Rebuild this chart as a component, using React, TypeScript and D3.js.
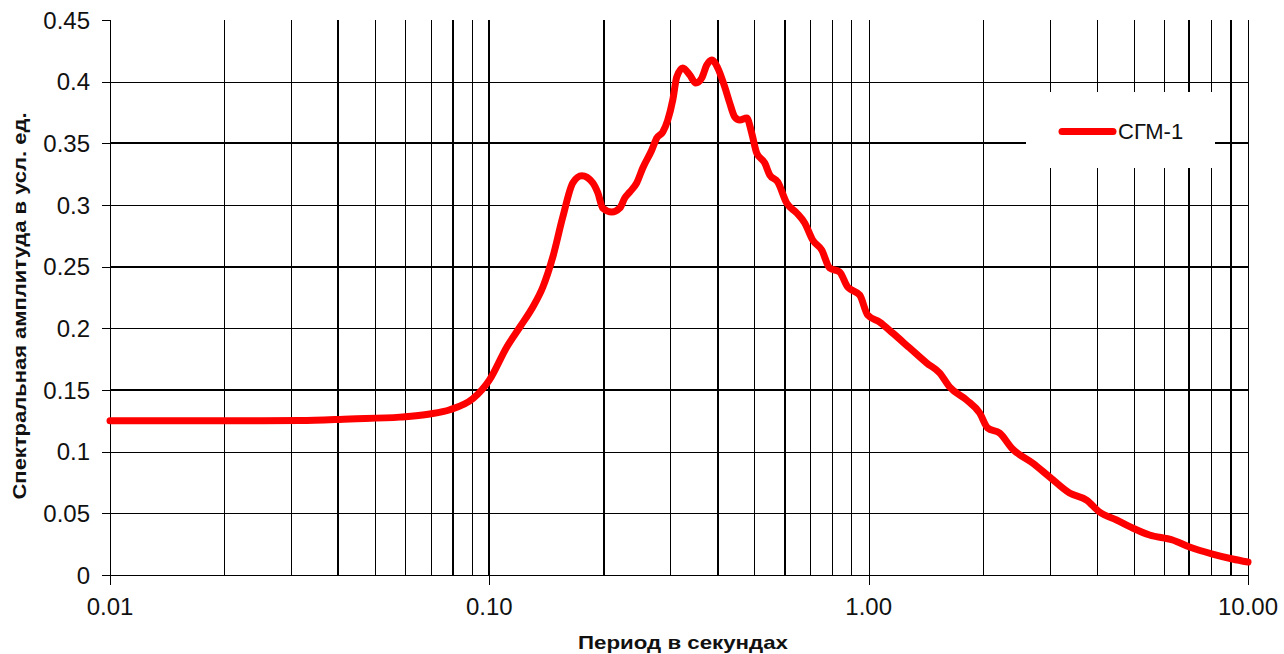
import React from 'react';
import * as d3 from 'd3';

// Response spectrum, record СГМ-1: period (s) vs spectral amplitude (arb. units)
const periods = [
  0.01, 0.0173, 0.0317, 0.0429, 0.0581, 0.0697, 0.0787, 0.0905, 0.0955, 0.1,
  0.1112, 0.1204, 0.1302, 0.1384, 0.147, 0.1562, 0.166, 0.1753, 0.1874, 0.1932,
  0.1991, 0.2103, 0.2208, 0.2275, 0.2345, 0.2447, 0.2538, 0.2681, 0.2763, 0.2866,
  0.2954, 0.3045, 0.312, 0.3236, 0.3376, 0.3501, 0.3631, 0.3743, 0.3858, 0.4001,
  0.4174, 0.4302, 0.4436, 0.4573, 0.4771, 0.4916, 0.5068, 0.5321, 0.5485, 0.5757,
  0.608, 0.6461, 0.6783, 0.7119, 0.752, 0.7892, 0.8385, 0.8803, 0.902, 0.9469,
  0.994, 1.069, 1.157, 1.282, 1.422, 1.539, 1.635, 1.812, 1.961, 2.059,
  2.214, 2.395, 2.704, 2.999, 3.385, 3.753, 4.061, 4.503, 4.963, 5.5,
  6.325, 7.013, 8.063, 9.105, 10.0,
];
const amplitudes = [
  0.125, 0.125, 0.1252, 0.1265, 0.128, 0.1305, 0.134, 0.143, 0.15, 0.158,
  0.1849, 0.2011, 0.2173, 0.2335, 0.2578, 0.2903, 0.318, 0.3237, 0.318, 0.3099,
  0.2975, 0.2943, 0.2975, 0.3057, 0.3105, 0.318, 0.33, 0.3446, 0.3543, 0.3592,
  0.3689, 0.3851, 0.4038, 0.4111, 0.4054, 0.3989, 0.403, 0.4135, 0.4176, 0.4111,
  0.3957, 0.3827, 0.3714, 0.3689, 0.3706, 0.3584, 0.3422, 0.3341, 0.3244, 0.3187,
  0.3016, 0.2935, 0.2854, 0.2716, 0.2635, 0.2489, 0.2457, 0.2335, 0.2311, 0.227,
  0.2108, 0.2051, 0.1962, 0.1841, 0.1719, 0.1638, 0.1524, 0.1419, 0.1314, 0.1192,
  0.1151, 0.1022, 0.0908, 0.0795, 0.0665, 0.0608, 0.0511, 0.0446, 0.0381, 0.0324,
  0.0284, 0.0227, 0.017, 0.013, 0.0105,
];

const yTicks = [0, 0.05, 0.1, 0.15, 0.2, 0.25, 0.3, 0.35, 0.4, 0.45];
const yTickLabels = ['0', '0.05', '0.1', '0.15', '0.2', '0.25', '0.3', '0.35', '0.4', '0.45'];
const xMajorTicks = [0.01, 0.1, 1, 10];
const xTickLabels = ['0.01', '0.10', '1.00', '10.00'];
const seriesName = 'СГМ-1';
const xTitle = 'Период в секундах';
const yTitle = 'Спектральная амплитуда в усл. ед.';

const W = 1284;
const H = 654;
const left = 110;
const right = 1248;
const top = 20;
const bottom = 575;
const font = '"Liberation Sans", Arial, sans-serif';

// grid lines drawn heavier
const heavyX = [0.04, 0.08, 0.1, 0.2, 0.4, 0.6, 7, 9];
const heavyY = [0.15, 0.25, 0.35];

export default function App() {
  const x = d3.scaleLog().domain([0.01, 10]).range([left, right]);
  const y = d3.scaleLinear().domain([0, 0.45]).range([bottom, top]);

  const gridX = x.ticks().filter((t) => t > 0.0100001);
  const gridY = yTicks.filter((t) => t > 0 && t < 0.45);

  const isHeavy = (arr: number[], v: number) => arr.some((a) => Math.abs(a - v) / a < 1e-6);

  const data = periods.map((p, i) => [p, amplitudes[i]] as [number, number]);
  const line = d3
    .line<[number, number]>()
    .x((d) => x(d[0]))
    .y((d) => y(d[1]))
    .curve(d3.curveMonotoneX);

  const crisp = (v: number, w: number) => (w % 2 === 1 ? Math.round(v) + 0.5 : Math.round(v));

  return (
    <svg
      width={W}
      height={H}
      style={{ position: 'absolute', left: 0, top: 0, background: '#fff' }}
    >
      <rect x={0} y={0} width={W} height={H} fill="#fff" />
      <g shapeRendering="crispEdges" stroke="#000">
        {gridX.map((t) => {
          const w = isHeavy(heavyX, t) ? 2 : 1;
          const px = crisp(x(t), w);
          return <line key={'gx' + t} x1={px} x2={px} y1={top} y2={bottom} strokeWidth={w} />;
        })}
        {gridY.map((t) => {
          const w = isHeavy(heavyY, t) ? 2 : 1;
          const py = crisp(y(t), w);
          return <line key={'gy' + t} x1={left} x2={right} y1={py} y2={py} strokeWidth={w} />;
        })}
        {/* axes */}
        <line x1={crisp(left, 1)} x2={crisp(left, 1)} y1={top} y2={bottom} strokeWidth={1} />
        <line x1={left - 8} x2={right} y1={crisp(bottom, 1)} y2={crisp(bottom, 1)} strokeWidth={1} />
        {yTicks.map((t) => (
          <line
            key={'yt' + t}
            x1={left - 8}
            x2={left}
            y1={crisp(y(t), 1)}
            y2={crisp(y(t), 1)}
            strokeWidth={1}
          />
        ))}
        {xMajorTicks.map((t) => (
          <line
            key={'xt' + t}
            x1={crisp(x(t), 1)}
            x2={crisp(x(t), 1)}
            y1={bottom}
            y2={bottom + 10}
            strokeWidth={1}
          />
        ))}
      </g>

      {yTicks.map((t, i) => (
        <text
          key={'yl' + t}
          x={90}
          y={y(t) + 8.5}
          textAnchor="end"
          fontFamily={font}
          fontSize={24}
          fill="#111"
        >
          {yTickLabels[i]}
        </text>
      ))}
      {xMajorTicks.map((t, i) => (
        <text
          key={'xl' + t}
          x={x(t)}
          y={615}
          textAnchor="middle"
          fontFamily={font}
          fontSize={24}
          fill="#111"
        >
          {xTickLabels[i]}
        </text>
      ))}

      <text
        x={683}
        y={649}
        textAnchor="middle"
        fontFamily={font}
        fontSize={19}
        fontWeight="bold"
        fill="#111"
        textLength={210}
        lengthAdjust="spacingAndGlyphs"
      >
        {xTitle}
      </text>
      <text
        transform="translate(26,306) rotate(-90)"
        textAnchor="middle"
        fontFamily={font}
        fontSize={18}
        fontWeight="bold"
        fill="#111"
        textLength={387}
        lengthAdjust="spacingAndGlyphs"
      >
        {yTitle}
      </text>

      <path
        d={line(data) ?? ''}
        fill="none"
        stroke="#ff0000"
        strokeWidth={7}
        strokeLinejoin="round"
        strokeLinecap="round"
      />

      {/* legend */}
      <rect x={1026} y={92} width={189} height={76} fill="#fff" />
      <line x1={1062} x2={1113} y1={131.5} y2={131.5} stroke="#ff0000" strokeWidth={7} strokeLinecap="round" />
      <text x={1118} y={139} fontFamily={font} fontSize={22} fill="#111">
        {seriesName}
      </text>
    </svg>
  );
}
